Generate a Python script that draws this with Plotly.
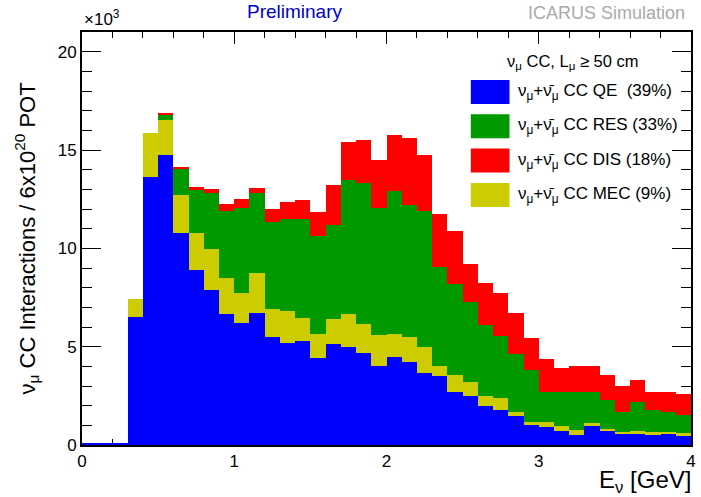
import plotly.graph_objects as go

# Bin edges 0..4 GeV, width 0.1 GeV; values in units of 10^3 interactions
bin_low = [round(0.1 * i, 1) for i in range(40)]
bin_width = 0.1

qe = [0.10, 0.10, 0.10, 6.51, 13.64, 14.77, 10.80, 8.88, 7.87, 6.68,
      6.19, 6.73, 5.47, 5.21, 5.30, 4.40, 5.13, 4.96, 4.67, 4.03,
      4.48, 4.20, 3.65, 3.49, 2.71, 2.47, 2.00, 1.79, 1.46, 1.02,
      0.90, 0.73, 0.52, 0.98, 0.73, 0.56, 0.56, 0.52, 0.56, 0.47]
mec = [0.00, 0.00, 0.00, 0.90, 2.23, 1.78, 1.89, 1.92, 2.08, 1.83,
       1.56, 2.00, 1.43, 1.58, 1.15, 1.25, 1.27, 1.71, 1.47, 1.55,
       1.15, 1.30, 1.31, 0.54, 0.86, 0.71, 0.47, 0.58, 0.23, 0.13,
       0.28, 0.22, 0.26, 0.12, 0.08, 0.12, 0.17, 0.12, 0.12, 0.12]
res = [0.00, 0.00, 0.00, 0.00, 0.00, 0.25, 1.35, 2.16, 2.88, 3.39,
       4.31, 4.06, 4.44, 4.72, 5.06, 4.98, 4.80, 6.83, 7.16, 6.48,
       7.31, 6.72, 6.92, 5.02, 4.60, 4.10, 3.64, 3.18, 2.93, 2.67,
       1.53, 1.72, 1.93, 1.61, 1.47, 1.01, 1.47, 1.14, 0.98, 0.93]
dis = [0.00, 0.00, 0.00, 0.00, 0.00, 0.04, 0.12, 0.17, 0.18, 0.33,
       0.46, 0.27, 0.67, 0.84, 0.94, 1.21, 2.03, 1.90, 2.23, 2.42,
       2.81, 3.40, 2.86, 2.71, 2.69, 1.91, 2.11, 2.18, 2.11, 1.61,
       1.66, 1.27, 1.32, 1.32, 1.27, 1.29, 1.10, 0.93, 1.01, 1.07]

NUBAR = "ν\u0304"
legend_labels = [
    ("QE", f"ν<sub>μ</sub>+{NUBAR}<sub>μ</sub> CC QE  (39%)", "#0000FF"),
    ("RES", f"ν<sub>μ</sub>+{NUBAR}<sub>μ</sub> CC RES (33%)", "#009900"),
    ("DIS", f"ν<sub>μ</sub>+{NUBAR}<sub>μ</sub> CC DIS (18%)", "#FF0000"),
    ("MEC", f"ν<sub>μ</sub>+{NUBAR}<sub>μ</sub> CC MEC (9%)", "#CCCC00"),
]
colors = {k: c for k, _, c in legend_labels}

x_centers = [b + bin_width / 2 for b in bin_low]

fig = go.Figure()
for name, vals in [("QE", qe), ("MEC", mec), ("RES", res), ("DIS", dis)]:
    fig.add_trace(go.Bar(
        x=x_centers, y=vals, width=bin_width, name=name,
        marker=dict(color=colors[name], line=dict(width=0)),
        showlegend=False, hoverinfo="x+y+name",
    ))

W, H = 701, 497
ML, MR, MT, MB = 82, 5, 32, 52
PW, PH = W - ML - MR, H - MT - MB


def px(xp):
    return (xp - ML) / PW


def py(yp):
    return (H - MB - yp) / PH


FONT = "Liberation Sans, Arial, sans-serif"
fig.update_layout(
    width=W, height=H,
    margin=dict(l=ML, r=MR, t=MT, b=MB),
    paper_bgcolor="white", plot_bgcolor="white",
    barmode="stack", bargap=0,
    font=dict(family=FONT, size=17, color="black"),
    xaxis=dict(
        range=[0, 4], showgrid=False, zeroline=False,
        showline=True, linecolor="black", linewidth=2, mirror="allticks",
        ticks="inside", ticklen=12, tickwidth=1, tickcolor="black",
        tickvals=[0, 1, 2, 3, 4], ticktext=["0", "1", "2", "3", "4"],
        minor=dict(ticks="inside", ticklen=6, dtick=0.2, tickcolor="black", showgrid=False),
        tickfont=dict(size=17), layer="below traces",
    ),
    yaxis=dict(
        range=[0, 21], showgrid=False, zeroline=False,
        showline=True, linecolor="black", linewidth=2, mirror="allticks",
        ticks="inside", ticklen=19, tickwidth=1, tickcolor="black",
        tickvals=[0, 5, 10, 15, 20],
        minor=dict(ticks="inside", ticklen=10, dtick=1, tickcolor="black", showgrid=False),
        tickfont=dict(size=17), layer="below traces",
    ),
)

annots = [
    dict(text="Preliminary", x=297, y=12, font=dict(size=19, color="#0000CC")),
    dict(text="ICARUS Simulation", x=611, y=13, font=dict(size=18, color="#AAAAAA")),
    dict(text="×10<sup>3</sup>", x=102, y=18, font=dict(size=17)),
    dict(text="ν<sub>μ</sub> CC Interactions / 6x10<sup>20</sup> POT", x=26, y=238,
         font=dict(size=22), textangle=-90),
    dict(text="ν<sub>μ</sub> CC, L<sub>μ</sub> ≥ 50 cm", x=577, y=62, font=dict(size=16.5)),
]
for a in annots:
    xpx, ypx = a.pop("x"), a.pop("y")
    fig.add_annotation(x=px(xpx), y=py(ypx), xref="paper", yref="paper",
                       showarrow=False, xanchor="center", yanchor="middle", **a)

# x axis title, right aligned at the axis end
fig.add_annotation(text="E<sub>ν</sub> [GeV]", x=px(698), y=py(481),
                   xref="paper", yref="paper", xanchor="right", yanchor="middle",
                   showarrow=False, font=dict(size=24))

# Legend drawn as boxes + labels
for i, (_, label, col) in enumerate(legend_labels):
    yc = 92 + i * 34.3
    fig.add_shape(type="rect", xref="paper", yref="paper",
                  x0=px(474), x1=px(513),
                  y0=py(yc + 12), y1=py(yc - 12),
                  fillcolor=col, line=dict(width=0), layer="above")
    fig.add_annotation(text=label, x=px(520), y=py(yc), xref="paper", yref="paper",
                       xanchor="left", yanchor="middle", showarrow=False,
                       font=dict(size=17))

fig.write_html("out.html")
